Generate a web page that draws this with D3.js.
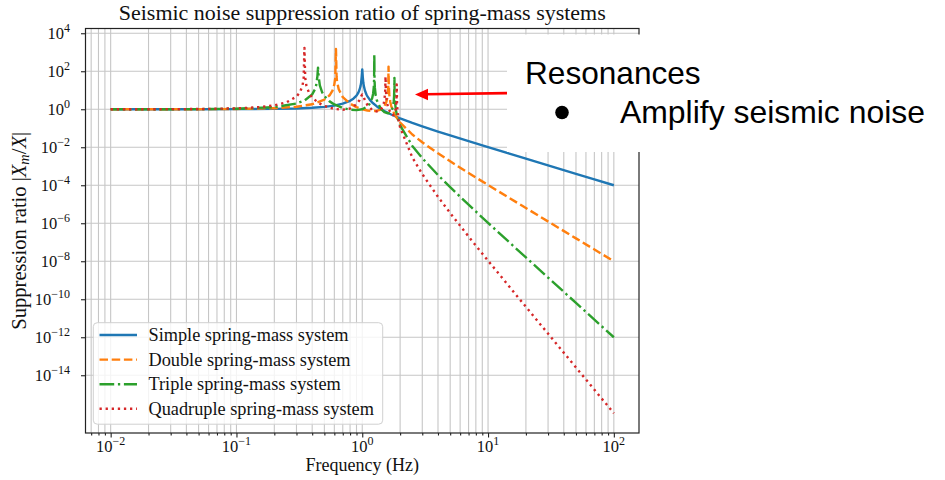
<!DOCTYPE html>
<html><head><meta charset="utf-8">
<script src="https://cdn.jsdelivr.net/npm/d3@7"></script>
<style>body{margin:0;background:#fff}</style>
</head><body>
<svg id="chart" width="945" height="480"></svg>
<script>
// ---------- data ----------
const seriesNames = ["Simple spring-mass system", "Double spring-mass system",
  "Triple spring-mass system", "Quadruple spring-mass system"];
const seriesColors = ["#1f77b4", "#ff7f0e", "#2ca02c", "#d62728"];
const xTickExponents = [-2, -1, 0, 1, 2];
const yTickExponents = [4, 2, 0, -2, -4, -6, -8, -10, -12, -14];
const titleText = "Seismic noise suppression ratio of spring-mass systems";
const xLabelText = "Frequency (Hz)";
const noteTitle = "Resonances";
const noteBullet = "Amplify seismic noise";

// [frequency (Hz), |Xm/X|]
const simpleSystem = [[0.01,1.0],[0.02,1.0004],[0.05,1.0025],[0.1,1.0101],[0.2,1.0417],[0.3,1.0989],[0.4,1.1905],[0.5,1.3333],[0.6,1.5625],[0.7,1.9608],[0.8,2.7778],[0.85,3.604],[0.9,5.263],[0.93,7.39],[0.95,10.26],[0.97,16.92],[0.98,25.25],[0.99,50.25],[1.0,126],[1.01,49.75],[1.02,24.75],[1.03,16.42],[1.05,9.756],[1.08,6.01],[1.1,4.762],[1.15,3.101],[1.2,2.273],[1.3,1.449],[1.4,1.042],[1.5,0.8],[1.7,0.529],[2,0.3333],[2.5,0.1905],[3,0.125],[4,0.0667],[5,0.04167],[7,0.02083],[10,0.0101],[15,4.464e-3],[20,2.506e-3],[30,1.112e-3],[50,4.0e-4],[70,2.041e-4],[100,1.0e-4]];
const doubleSystem = [[0.01,1.0003],[0.02,1.0012],[0.05,1.0075],[0.1,1.0308],[0.2,1.134],[0.3,1.355],[0.4,1.833],[0.5,3.2],[0.55,5.435],[0.58,9.62],[0.6,20.2],[0.61,45],[0.618,1500],[0.625,51.8],[0.63,30.1],[0.65,11.24],[0.7,4.35],[0.8,1.959],[0.9,1.292],[1.0,1.0],[1.1,0.858],[1.2,0.802],[1.3,0.824],[1.4,0.963],[1.5,1.455],[1.55,2.296],[1.58,3.89],[1.6,7.91],[1.61,17.5],[1.618,175],[1.625,19.6],[1.64,6.06],[1.67,2.43],[1.7,1.466],[1.8,0.5626],[2,0.2],[2.5,0.0469],[3,0.01818],[4,4.785e-3],[5,1.815e-3],[7,4.435e-4],[10,1.031e-4],[20,6.297e-6],[50,1.601e-7],[100,1.0e-8]];
const tripleSystem = [[0.01,1.0006],[0.02,1.0024],[0.05,1.015],[0.1,1.063],[0.2,1.302],[0.3,2.0],[0.35,2.957],[0.4,6.1],[0.42,10.9],[0.43,18.1],[0.44,53.9],[0.445,155],[0.45,54.7],[0.46,18.1],[0.48,7.74],[0.5,4.92],[0.55,2.596],[0.6,1.79],[0.7,1.167],[0.8,0.949],[0.9,0.9],[1.0,1.0],[1.1,1.406],[1.15,1.988],[1.2,3.876],[1.22,6.62],[1.235,14.7],[1.242,35.4],[1.247,780],[1.252,34.7],[1.26,13.3],[1.28,5.17],[1.3,3.19],[1.4,1.089],[1.5,0.703],[1.6,0.613],[1.65,0.647],[1.7,0.7795],[1.75,1.255],[1.78,2.657],[1.79,4.69],[1.797,11.1],[1.802,45],[1.807,10.4],[1.815,3.94],[1.83,1.734],[1.85,0.946],[1.9,0.393],[2,0.1429],[2.5,0.01172],[3,2.653e-3],[4,3.435e-4],[5,7.906e-5],[7,9.44e-6],[10,1.052e-6],[20,1.582e-8],[50,6.413e-11],[100,1.0e-12]];
const quadrupleSystem = [[0.01,1.001],[0.02,1.004],[0.05,1.025],[0.1,1.109],[0.15,1.278],[0.2,1.604],[0.25,2.315],[0.3,4.62],[0.32,7.94],[0.335,17.6],[0.342,40.7],[0.347,1700],[0.352,45.8],[0.36,16.9],[0.38,6.58],[0.4,4.1],[0.45,2.144],[0.5,1.497],[0.6,1.035],[0.7,0.9395],[0.8,1.083],[0.9,1.824],[0.95,3.0],[0.98,4.8],[1.0,6.0],[1.02,4.8],[1.05,3.0],[1.1,1.655],[1.2,0.9075],[1.3,0.763],[1.4,0.928],[1.45,1.307],[1.48,1.928],[1.5,3.01],[1.52,7.73],[1.532,52],[1.54,11.5],[1.56,3.18],[1.6,1.271],[1.7,0.548],[1.75,0.491],[1.8,0.549],[1.85,1.061],[1.87,2.92],[1.879,20],[1.89,2.3],[1.9,1.116],[1.95,0.2463],[2,0.1111],[2.5,2.93e-3],[3,3.87e-4],[4,2.466e-5],[5,3.444e-6],[7,2.009e-7],[10,1.0735e-8],[20,3.975e-11],[50,2.567e-14],[100,1.0e-16]];
const allSeries = [simpleSystem, doubleSystem, tripleSystem, quadrupleSystem];
const seriesDashes = [null, "8.5,3.7", "14.7,3.7,2.3,3.7", "2.3,3.8"];

// ---------- layout ----------
const SERIF = "'Liberation Serif', 'Times New Roman', serif";
const SANS = "'Liberation Sans', Arial, sans-serif";
const P = {left: 85.5, right: 639, top: 28.5, bottom: 433};
const svg = d3.select("#chart");
const x = d3.scaleLog().domain([Math.pow(10, -2.2), Math.pow(10, 2.2)]).range([P.left, P.right]);
const y = d3.scaleLog().domain([Math.pow(10, -17.04), Math.pow(10, 4.25)]).range([P.bottom, P.top]);

function fitWidth(sel, base, target) {
  const w = sel.node().getComputedTextLength();
  if (w > 0) sel.attr("font-size", base * target / w);
}

// minor + major x positions
const xAll = [];
for (let d = -3; d <= 2; d++) for (let k = 1; k <= 9; k++) {
  const v = k * Math.pow(10, d);
  if (v >= x.domain()[0] && v <= x.domain()[1]) xAll.push(v);
}
const xMajor = xTickExponents.map(e => Math.pow(10, e));
const xMinor = xAll.filter(v => !xMajor.some(m => Math.abs(m - v) / m < 1e-9));
const yMajor = yTickExponents.map(e => Math.pow(10, e));

// grid
const grid = svg.append("g");
grid.selectAll("line.v").data(xAll).join("line")
  .attr("x1", d => x(d)).attr("x2", d => x(d)).attr("y1", P.top).attr("y2", P.bottom)
  .attr("stroke", "#c6c6c6").attr("stroke-width", 1.1);
grid.selectAll("line.h").data(yMajor).join("line")
  .attr("y1", d => y(d)).attr("y2", d => y(d)).attr("x1", P.left).attr("x2", P.right)
  .attr("stroke", "#c6c6c6").attr("stroke-width", 1.1);

// series
const line = d3.line().x(d => x(d[0])).y(d => y(d[1]));
allSeries.forEach((s, i) => {
  svg.append("path").datum(s).attr("d", line)
    .attr("fill", "none").attr("stroke", seriesColors[i]).attr("stroke-width", 2.4)
    .attr("stroke-dasharray", seriesDashes[i]).attr("stroke-linejoin", "round");
});

// axes
const axG = svg.append("g").attr("font-family", SERIF);
axG.append("g").attr("transform", `translate(0,${P.bottom})`)
  .call(d3.axisBottom(x).tickValues(xMinor).tickSize(2.5).tickFormat(""))
  .call(g => g.select(".domain").remove());
axG.append("g").attr("transform", `translate(0,${P.bottom})`)
  .call(d3.axisBottom(x).tickValues(xMajor).tickSize(4.5).tickFormat(""))
  .call(g => g.select(".domain").remove());
axG.append("g").attr("transform", `translate(${P.left},0)`)
  .call(d3.axisLeft(y).tickValues(yMajor).tickSize(4.5).tickFormat(""))
  .call(g => g.select(".domain").remove());
axG.selectAll(".tick line").attr("stroke", "#222").attr("stroke-width", 1.1);

function expLabel(sel, e) {
  sel.append("tspan").text("10");
  sel.append("tspan").attr("dy", -7).attr("font-size", 12)
     .text(e < 0 ? "\u2212" + (-e) : String(e));
}
xTickExponents.forEach(e => {
  const t = svg.append("text").attr("x", x(Math.pow(10, e))).attr("y", 451.5)
    .attr("text-anchor", "middle").attr("font-family", SERIF).attr("font-size", 16.5).attr("fill", "#111");
  expLabel(t, e);
});
yTickExponents.forEach(e => {
  const t = svg.append("text").attr("x", 70).attr("y", y(Math.pow(10, e)) + 6)
    .attr("text-anchor", "end").attr("font-family", SERIF).attr("font-size", 16.5).attr("fill", "#111");
  expLabel(t, e);
});

// spines
svg.append("rect").attr("x", P.left).attr("y", P.top)
  .attr("width", P.right - P.left).attr("height", P.bottom - P.top)
  .attr("fill", "none").attr("stroke", "#222").attr("stroke-width", 1.2);

// axis labels & title
svg.append("text").attr("x", (P.left + P.right) / 2).attr("y", 471)
  .attr("text-anchor", "middle").attr("font-family", SERIF).attr("font-size", 18).attr("fill", "#111")
  .text(xLabelText);
const yl = svg.append("text").attr("transform", `translate(26,${(P.top + P.bottom) / 2}) rotate(-90)`)
  .attr("text-anchor", "middle").attr("font-family", SERIF).attr("font-size", 18).attr("fill", "#111");
yl.append("tspan").text("Suppression ratio |");
yl.append("tspan").attr("font-style", "italic").text("X");
yl.append("tspan").attr("font-style", "italic").attr("font-size", "0.7em").attr("dy", 3).text("m");
yl.append("tspan").attr("dy", -3).text("/");
yl.append("tspan").attr("font-style", "italic").text("X");
yl.append("tspan").text("|");
fitWidth(yl, 18, 198);

const title = svg.append("text").attr("x", (P.left + P.right) / 2).attr("y", 20)
  .attr("text-anchor", "middle").attr("font-family", SERIF).attr("font-size", 20).attr("fill", "#111")
  .text(titleText);
fitWidth(title, 20, 487);

// legend
const lg = svg.append("g");
lg.append("rect").attr("x", 93.3).attr("y", 322.7).attr("width", 289.4).attr("height", 101.5)
  .attr("rx", 4).attr("fill", "#fff").attr("fill-opacity", 0.8)
  .attr("stroke", "#d0d0d0").attr("stroke-width", 1);
const rowY = [335, 359.6, 384.2, 408.8];
seriesNames.forEach((n, i) => {
  lg.append("line").attr("x1", 99.5).attr("x2", 137).attr("y1", rowY[i]).attr("y2", rowY[i])
    .attr("stroke", seriesColors[i]).attr("stroke-width", 2.4).attr("stroke-dasharray", seriesDashes[i]);
  lg.append("text").attr("x", 148.5).attr("y", rowY[i] + 6).attr("font-family", SERIF)
    .attr("font-size", 18.3).attr("fill", "#111").text(n);
});

// annotation overlay
svg.append("rect").attr("x", 507).attr("y", 34.5).attr("width", 945 - 507).attr("height", 152 - 34.5)
  .attr("fill", "#fff");
svg.append("line").attr("x1", 507).attr("y1", 93.1).attr("x2", 426).attr("y2", 94.3)
  .attr("stroke", "#ff0000").attr("stroke-width", 2.6);
svg.append("path").attr("d", "M415,94.5 L428,88.8 L428,100.2 Z").attr("fill", "#ff0000");
svg.append("text").attr("x", 525).attr("y", 84).attr("font-family", SANS).attr("font-size", 31.6)
  .attr("fill", "#000").text(noteTitle);
svg.append("circle").attr("cx", 562).attr("cy", 112.5).attr("r", 6.8).attr("fill", "#000");
const nb = svg.append("text").attr("x", 620).attr("y", 122.5).attr("font-family", SANS).attr("font-size", 32)
  .attr("fill", "#000").text(noteBullet);
fitWidth(nb, 32, 305);
</script>
</body></html>
